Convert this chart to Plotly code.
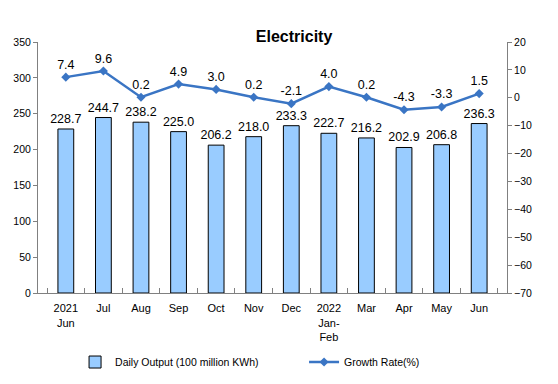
import plotly.graph_objects as go

categories = ["2021<br>Jun", "Jul", "Aug", "Sep", "Oct", "Nov", "Dec",
              "2022<br>Jan-<br>Feb", "Mar", "Apr", "May", "Jun"]
daily_output = [228.7, 244.7, 238.2, 225.0, 206.2, 218.0, 233.3, 222.7, 216.2, 202.9, 206.8, 236.3]
growth_rate = [7.4, 9.6, 0.2, 4.9, 3.0, 0.2, -2.1, 4.0, 0.2, -4.3, -3.3, 1.5]
left_ticks = [0, 50, 100, 150, 200, 250, 300, 350]
right_ticks = [20, 10, 0, -10, -20, -30, -40, -50, -60, -70]

FONT = "Liberation Sans, Arial, sans-serif"

fig = go.Figure()
fig.add_trace(go.Bar(
    x=categories, y=daily_output, name="Daily Output (100 million KWh)",
    marker=dict(color="#99ccff", line=dict(color="black", width=1)),
    width=0.42,
    text=[f"{v:.1f}" for v in daily_output], textposition="outside",
    constraintext="none",
    textfont=dict(size=12.5, color="black", family=FONT),
    cliponaxis=False,
))
fig.add_trace(go.Scatter(
    x=categories, y=growth_rate, name="Growth Rate(%)", yaxis="y2",
    mode="lines+markers+text",
    line=dict(color="#3a75c4", width=2.5),
    marker=dict(symbol="diamond", size=7, color="#3a75c4"),
    text=[f"{v:.1f}" for v in growth_rate], textposition="top center",
    textfont=dict(size=12.5, color="black", family=FONT),
    cliponaxis=False,
))

fig.update_layout(
    width=558, height=384,
    margin=dict(l=38, r=51, t=42, b=91, autoexpand=False),
    paper_bgcolor="white", plot_bgcolor="white",
    font=dict(family=FONT, size=10, color="black"),
    title=dict(text="<b>Electricity</b>", x=0.527, xanchor="center", y=0.905, yanchor="middle",
               font=dict(size=16, color="black", family=FONT)),
    bargap=0.58,
    showlegend=True,
    legend=dict(orientation="h", x=0.079, xanchor="left", y=-0.275, yanchor="middle",
                font=dict(size=10.5, color="black", family=FONT), itemwidth=30,
                entrywidth=184, entrywidthmode="pixels", tracegroupgap=0),
    xaxis=dict(type="category", showline=True, linecolor="#808080", linewidth=1,
               ticks="inside", tickson="boundaries", ticklen=5, tickcolor="#808080",
               tickfont=dict(size=11), ticklabelstandoff=5,
               showgrid=False, automargin=False),
    yaxis=dict(range=[0, 350], tickvals=left_ticks, showline=True, linecolor="#808080",
               ticks="outside", ticklen=4, tickcolor="#808080", showgrid=False,
               zeroline=False, tickfont=dict(size=10.5), automargin=False),
    yaxis2=dict(range=[-70, 20], tickvals=right_ticks, overlaying="y", side="right",
                showline=True, linecolor="#808080", ticks="outside", ticklen=4,
                tickcolor="#808080", showgrid=False, zeroline=False, tickfont=dict(size=10.5),
                automargin=False),
)

fig.write_html("out.html", config={"displayModeBar": False},
               post_script="document.body.style.margin='0';")
